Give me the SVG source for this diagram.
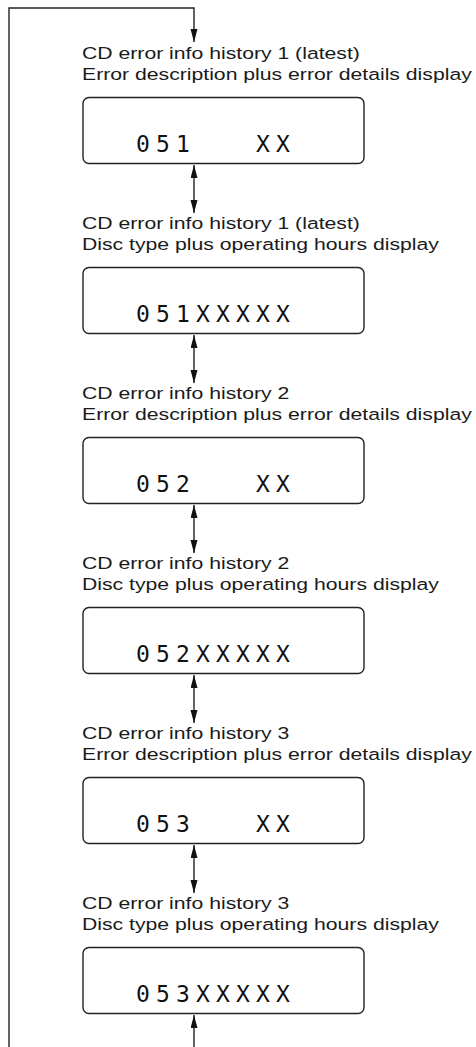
<svg xmlns="http://www.w3.org/2000/svg" width="476" height="1047" viewBox="0 0 476 1047">
<style>
.bg{fill:#fff}
.box{fill:#fff;stroke:#222;stroke-width:1.4}
.lbl{font-family:"Liberation Sans",Arial,sans-serif;font-size:16.5px;fill:#1a1a1a}
.lcd{font-family:"DejaVu Sans Mono",monospace;font-size:23px;letter-spacing:6.15px;fill:#111;white-space:pre}
.ln{fill:none;stroke:#222;stroke-width:1.4}
</style>
<defs>
<marker id="ah" markerUnits="userSpaceOnUse" markerWidth="14" markerHeight="8" refX="13" refY="3.5" orient="auto-start-reverse">
<path d="M0,0 L13,3.5 L0,7 z" fill="#111"/>
</marker>
</defs>
<rect class="bg" x="0" y="0" width="476" height="1047"/>
<g id="connectors">
<path class="ln" d="M9,1047 V8 H194 V42" marker-end="url(#ah)"/>
<line class="ln" x1="194" y1="165" x2="194" y2="213" marker-start="url(#ah)" marker-end="url(#ah)"/>
<line class="ln" x1="194" y1="335" x2="194" y2="383" marker-start="url(#ah)" marker-end="url(#ah)"/>
<line class="ln" x1="194" y1="505" x2="194" y2="553" marker-start="url(#ah)" marker-end="url(#ah)"/>
<line class="ln" x1="194" y1="675" x2="194" y2="723" marker-start="url(#ah)" marker-end="url(#ah)"/>
<line class="ln" x1="194" y1="845" x2="194" y2="893" marker-start="url(#ah)" marker-end="url(#ah)"/>
<line class="ln" x1="194" y1="1047" x2="194" y2="1015" marker-end="url(#ah)"/>
</g>
<g id="node1">
<text class="lbl" transform="translate(82,59) scale(1.285 1)">CD error info history 1 (latest)</text>
<text class="lbl" transform="translate(82,80) scale(1.285 1)">Error description plus error details display</text>
<rect class="box" x="83" y="97.5" width="281" height="66" rx="6"/>
<text class="lcd" x="136" y="152" xml:space="preserve">051   XX</text>
</g>
<g id="node2">
<text class="lbl" transform="translate(82,229) scale(1.285 1)">CD error info history 1 (latest)</text>
<text class="lbl" transform="translate(82,250) scale(1.285 1)">Disc type plus operating hours display</text>
<rect class="box" x="83" y="267.5" width="281" height="66" rx="6"/>
<text class="lcd" x="136" y="322" xml:space="preserve">051XXXXX</text>
</g>
<g id="node3">
<text class="lbl" transform="translate(82,399) scale(1.285 1)">CD error info history 2</text>
<text class="lbl" transform="translate(82,420) scale(1.285 1)">Error description plus error details display</text>
<rect class="box" x="83" y="437.5" width="281" height="66" rx="6"/>
<text class="lcd" x="136" y="492" xml:space="preserve">052   XX</text>
</g>
<g id="node4">
<text class="lbl" transform="translate(82,569) scale(1.285 1)">CD error info history 2</text>
<text class="lbl" transform="translate(82,590) scale(1.285 1)">Disc type plus operating hours display</text>
<rect class="box" x="83" y="607.5" width="281" height="66" rx="6"/>
<text class="lcd" x="136" y="662" xml:space="preserve">052XXXXX</text>
</g>
<g id="node5">
<text class="lbl" transform="translate(82,739) scale(1.285 1)">CD error info history 3</text>
<text class="lbl" transform="translate(82,760) scale(1.285 1)">Error description plus error details display</text>
<rect class="box" x="83" y="777.5" width="281" height="66" rx="6"/>
<text class="lcd" x="136" y="832" xml:space="preserve">053   XX</text>
</g>
<g id="node6">
<text class="lbl" transform="translate(82,909) scale(1.285 1)">CD error info history 3</text>
<text class="lbl" transform="translate(82,930) scale(1.285 1)">Disc type plus operating hours display</text>
<rect class="box" x="83" y="947.5" width="281" height="66" rx="6"/>
<text class="lcd" x="136" y="1002" xml:space="preserve">053XXXXX</text>
</g>
</svg>
